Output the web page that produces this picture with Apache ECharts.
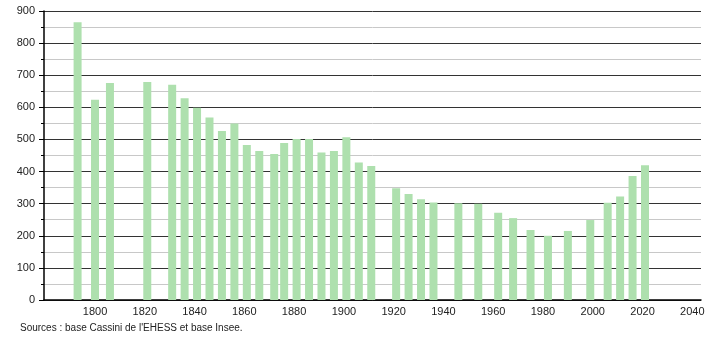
<!DOCTYPE html>
<html><head><meta charset="utf-8">
<script src="https://cdn.jsdelivr.net/npm/echarts@6/dist/echarts.min.js"></script>
<style>html,body{margin:0;padding:0;background:#fff}#c{width:710px;height:340px}</style>
</head><body><div id="c"></div>
<script>
const years = [1793,1800,1806,1821,1831,1836,1841,1846,1851,1856,1861,1866,1872,1876,1881,1886,1891,1896,1901,1906,1911,1921,1926,1931,1936,1946,1954,1962,1968,1975,1982,1990,1999,2006,2011,2016,2021];
const population = [865,624,676,679,670,628,599,568,526,550,483,464,455,489,501,501,459,464,507,428,417,348,330,314,304,301,300,272,255,218,200,215,249,303,322,386,420];
const xTickLabels = [1800,1820,1840,1860,1880,1900,1920,1940,1960,1980,2000,2020,2040];
const sourceText = "Sources : base Cassini de l'EHESS et base Insee.";

const chart = echarts.init(document.getElementById('c'), null, {renderer:'canvas'});
const font = 'Liberation Sans, Arial, sans-serif';
chart.setOption({
  animation:false,
  backgroundColor:'#fff',
  grid:{left:44,right:9,top:11,bottom:40},
  xAxis:{
    type:'value', min:1779.5, max:2043.5,
    axisLine:{show:true,onZero:false,lineStyle:{color:'#000',width:1.5}},
    axisTick:{show:false},
    splitLine:{show:false},
    axisLabel:{customValues:xTickLabels,formatter:v=>String(v),color:'#222',fontSize:11,fontFamily:font,margin:6}
  },
  yAxis:{
    type:'value', min:0, max:900, interval:100,
    axisLine:{show:true,lineStyle:{color:'#000',width:1.5}},
    axisTick:{show:true,length:5,lineStyle:{color:'#000'}},
    minorTick:{show:true,splitNumber:2,length:3,lineStyle:{color:'#000'}},
    splitLine:{show:true,lineStyle:{color:'#333',width:1}},
    minorSplitLine:{show:true,lineStyle:{color:'#c8c8c8',width:1}},
    axisLabel:{formatter:v=>String(v),color:'#222',fontSize:11,fontFamily:font,margin:9}
  },
  series:[{
    type:'bar',
    barWidth:8,
    data: years.map((y,i)=>[y,population[i]]),
    itemStyle:{color:'#aee0ae'},
    z:3
  }],
  graphic:[{type:'text',left:20,top:323,style:{text:sourceText,fill:'#222',font:'10px '+font}}]
});
</script></body></html>
